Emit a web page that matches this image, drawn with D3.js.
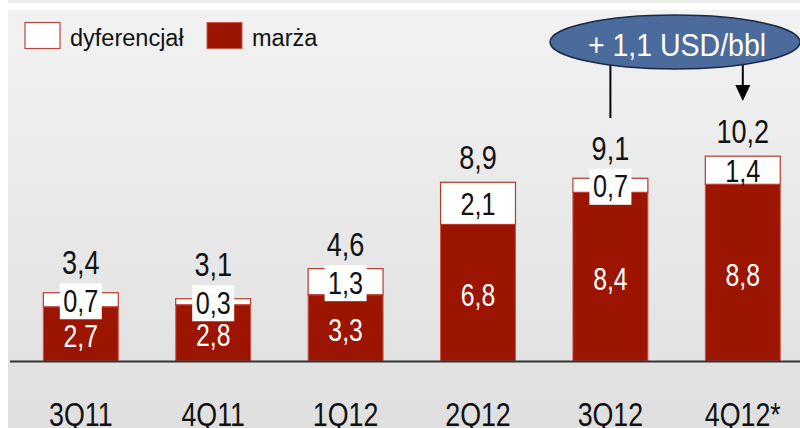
<!DOCTYPE html>
<html><head><meta charset="utf-8">
<script src="https://cdn.jsdelivr.net/npm/d3@7"></script>
<style>html,body{margin:0;padding:0;background:#fff;}svg{display:block;}</style>
</head><body>
<svg id="chart" width="800" height="428"></svg>
<script>
const categories = ["3Q11", "4Q11", "1Q12", "2Q12", "3Q12", "4Q12*"];
const marza = [2.7, 2.8, 3.3, 6.8, 8.4, 8.8];
const dyferencjal = [0.7, 0.3, 1.3, 2.1, 0.7, 1.4];
const totals = [3.4, 3.1, 4.6, 8.9, 9.1, 10.2];
const boxedLabels = [true, true, true, false, true, false];
const legendLabels = ["dyferencjał", "marża"];
const annotationText = "+ 1,1 USD/bbl";

const fmt = v => d3.format(".1f")(v).replace(".", ",");
const W = 800, H = 428;
const svg = d3.select("#chart");
const FONT = "'Liberation Sans', Arial, sans-serif";
const RED = "#9b1500";

// background
const defs = svg.append("defs");
const grad = defs.append("linearGradient").attr("id", "bg").attr("x1", 0).attr("y1", 0).attr("x2", 0).attr("y2", 1);
grad.append("stop").attr("offset", "0%").attr("stop-color", "#f2f2f2");
grad.append("stop").attr("offset", "100%").attr("stop-color", "#dfdfdf");
svg.append("rect").attr("x", 0).attr("y", 0).attr("width", W).attr("height", H).attr("fill", "#fff");
svg.append("rect").attr("x", 8).attr("y", 0).attr("width", W - 8).attr("height", 3).attr("fill", "#ececec");
svg.append("rect").attr("x", 8).attr("y", 10).attr("width", W - 8).attr("height", H - 10).attr("fill", "url(#bg)");

const x = d3.scaleBand().domain(categories).range([14.6, 809]).paddingInner(0.434).paddingOuter(0.217);
const y = d3.scaleLinear().domain([0, 12]).range([361, 361 - 12 * 20.08]);

const rows = categories.map((c, i) => ({c, m: marza[i], d: dyferencjal[i], t: totals[i], boxed: boxedLabels[i]}));

const g = svg.append("g");
g.selectAll("rect.m").data(rows).join("rect")
  .attr("x", d => x(d.c)).attr("width", x.bandwidth())
  .attr("y", d => y(d.m)).attr("height", d => y(0) - y(d.m))
  .attr("fill", RED).attr("stroke", "#c9574b").attr("stroke-width", 1);
g.selectAll("rect.d").data(rows).join("rect")
  .attr("x", d => x(d.c)).attr("width", x.bandwidth())
  .attr("y", d => y(d.m + d.d)).attr("height", d => y(d.m) - y(d.m + d.d))
  .attr("fill", "#fff").attr("stroke", "#b8392c").attr("stroke-width", 1.2);

svg.append("line").attr("x1", 10).attr("x2", W).attr("y1", 361.5).attr("y2", 361.5)
  .attr("stroke", "#333").attr("stroke-width", 2);

function narrowText(sel, cx, by, txt, size, sx, fill) {
  return sel.append("text")
    .attr("transform", `translate(${cx},${by}) scale(${sx},1)`)
    .attr("text-anchor", "middle").attr("font-family", FONT).attr("font-size", size)
    .attr("fill", fill).text(txt);
}

const BOXW = 42, BOXH = 36;
rows.forEach(d => {
  const cx = x(d.c) + x.bandwidth() / 2;
  const segC = (y(d.m) + y(d.m + d.d)) / 2;
  const boxTop = segC + 1.5 - BOXH / 2;
  if (d.boxed) {
    g.append("rect").attr("x", cx - BOXW / 2).attr("y", boxTop).attr("width", BOXW).attr("height", BOXH).attr("fill", "#fff");
  }
  narrowText(g, cx, segC + 12, fmt(d.d), 31.5, 0.8, "#111");
  const mC = (y(0) + y(d.m)) / 2;
  narrowText(g, cx, mC + 13, fmt(d.m), 31, 0.8, "#fff");
  const tb = Math.min(y(d.t) - 13, d.boxed ? boxTop - 9 : 1e9);
  narrowText(g, cx, tb, fmt(d.t), 33, 0.82, "#111");
  narrowText(svg, cx, 426, d.c, 33.5, 0.8, "#111");
});

// legend
const lg = svg.append("g");
lg.append("rect").attr("x", 25).attr("y", 22.5).attr("width", 35).attr("height", 26).attr("fill", "#fff").attr("stroke", "#b8473b").attr("stroke-width", 1.2);
lg.append("text").attr("x", 70).attr("y", 46).attr("font-family", FONT).attr("font-size", 23.5).attr("fill", "#111").text(legendLabels[0]);
lg.append("rect").attr("x", 207).attr("y", 22.5).attr("width", 35).attr("height", 26).attr("fill", RED).attr("stroke", "#c9574b").attr("stroke-width", 1);
lg.append("text").attr("x", 252).attr("y", 46).attr("font-family", FONT).attr("font-size", 23.5).attr("fill", "#111").text(legendLabels[1]);

// annotation
const ecx = 675, ecy = 42, erx = 125, ery = 27;
const x5 = x(categories[4]) + x.bandwidth() / 2;
const x6 = x(categories[5]) + x.bandwidth() / 2;
const eBottom = xx => ecy + ery * Math.sqrt(1 - Math.pow((xx - ecx) / erx, 2));
svg.append("line").attr("x1", x5).attr("x2", x5).attr("y1", eBottom(x5) - 2).attr("y2", 118)
  .attr("stroke", "#000").attr("stroke-width", 2);
svg.append("line").attr("x1", x6).attr("x2", x6).attr("y1", eBottom(x6) - 2).attr("y2", 88)
  .attr("stroke", "#000").attr("stroke-width", 2);
svg.append("path").attr("d", `M${x6 - 7.5},85 L${x6 + 7.5},85 L${x6},101 Z`).attr("fill", "#000");
svg.append("ellipse").attr("cx", ecx).attr("cy", ecy).attr("rx", erx).attr("ry", ery)
  .attr("fill", "#4a6b9c").attr("stroke", "#1b2a44").attr("stroke-width", 1.5);
narrowText(svg, ecx + 2, 55.5, annotationText, 31, 0.92, "#fff");
</script>
</body></html>
